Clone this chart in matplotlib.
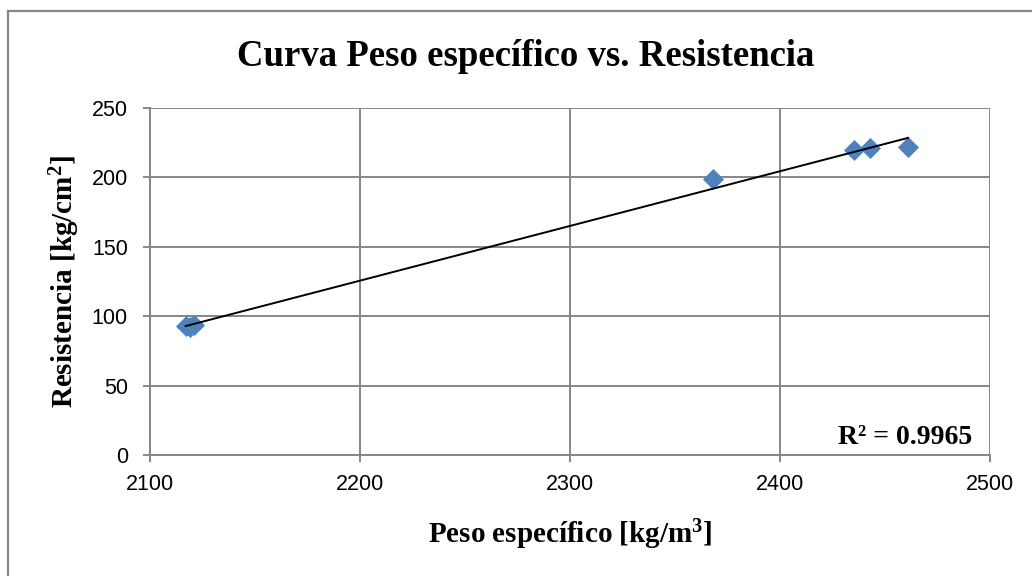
import numpy as np
import matplotlib
matplotlib.use("Agg")
import matplotlib.pyplot as plt
from matplotlib.lines import Line2D

plt.rcParams['mathtext.fontset'] = 'custom'
plt.rcParams['mathtext.bf'] = 'Liberation Serif:bold'
plt.rcParams['mathtext.rm'] = 'Liberation Serif:bold'
plt.rcParams['mathtext.it'] = 'Liberation Serif:bold'

peso = [2117, 2119, 2121, 2368, 2435, 2443, 2461]
resistencia = [93, 92, 94, 199, 220, 221, 222]
x_ticks = [2100, 2200, 2300, 2400, 2500]
y_ticks = [0, 50, 100, 150, 200, 250]
r2_label = 'R² = 0.9965'

fig = plt.figure(figsize=(10.32, 5.76), dpi=100)
ax = fig.add_axes([150/1032, 1-455/576, 840/1032, 347/576])

ax.scatter(peso, resistencia, marker='D', s=115, color='#4F81BD', zorder=3, linewidths=0)

x = np.array(peso, float); y = np.array(resistencia, float)
m, b = np.polyfit(x, y, 1)
xs = np.array([x.min(), x.max()])
ax.plot(xs, m*xs + b, color='black', lw=1.4, zorder=4)

ax.set_xlim(2100, 2500)
ax.set_ylim(0, 250)
ax.set_xticks(x_ticks)
ax.set_yticks(y_ticks)
ax.grid(True, color='#868686', lw=1.4)
ax.set_axisbelow(True)
for s in ['top', 'right']:
    ax.spines[s].set_visible(False)
for s in ['left', 'bottom']:
    ax.spines[s].set_color('#868686')
    ax.spines[s].set_linewidth(1.4)
ax.tick_params(axis='both', length=5, color='#868686', labelsize=15.5, width=1.4)
ax.tick_params(axis='x', pad=9)
ax.tick_params(axis='y', pad=11)
for lab in ax.get_xticklabels() + ax.get_yticklabels():
    lab.set_family('Liberation Sans')

ax.set_xlabel(r'Peso específico [kg/m$^{\mathbf{3}}$]', fontsize=21, fontweight='bold',
              family='Liberation Serif', labelpad=16)
ax.set_ylabel(r'Resistencia [kg/cm$^{\mathbf{2}}$]', fontsize=21, fontweight='bold',
              family='Liberation Serif', labelpad=7)

fig.text(526/1032, 1-57/576, 'Curva Peso específico vs. Resistencia', ha='center', va='center',
         fontsize=26.5, fontweight='bold', family='Liberation Serif')
ax.text(0.9786, 0.049, r2_label, transform=ax.transAxes, ha='right', va='center',
        fontsize=20, fontweight='bold', family='Liberation Serif')

fig.lines.append(Line2D([8/1032, 8/1032], [0, 1-10.5/576], transform=fig.transFigure,
                        color='#868686', lw=1.6))
fig.lines.append(Line2D([8/1032, 1], [1-10.5/576, 1-10.5/576], transform=fig.transFigure,
                        color='#868686', lw=1.6))

fig.savefig('out.png', dpi=100)
